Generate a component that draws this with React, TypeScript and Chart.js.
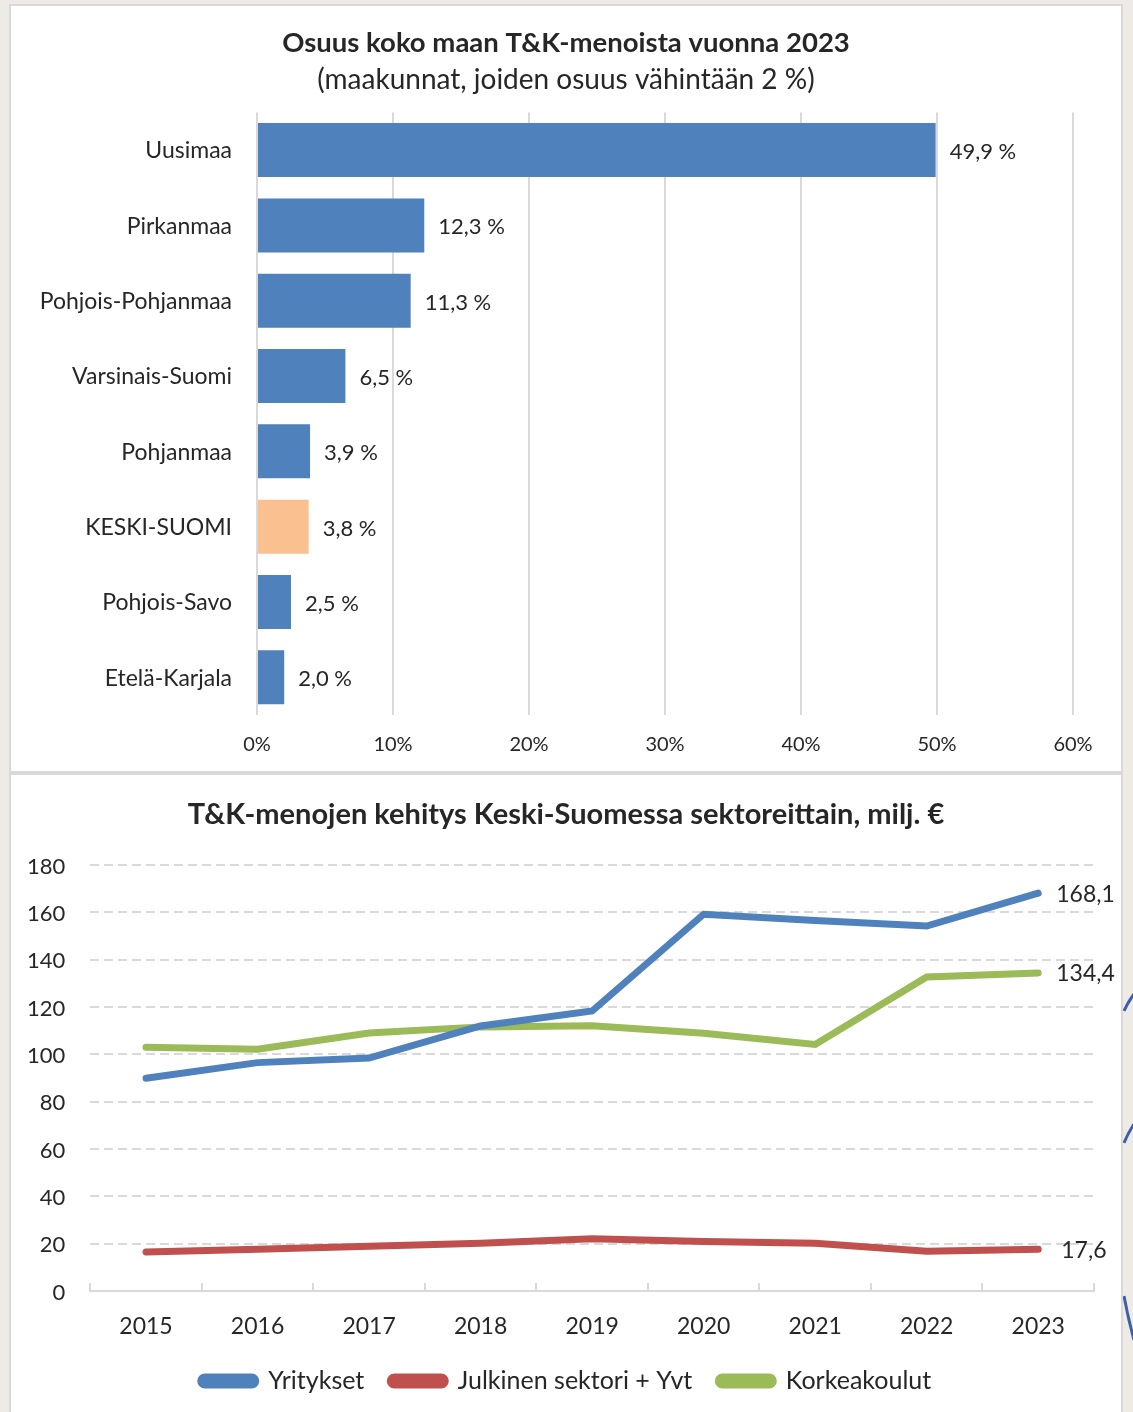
import React, { useEffect, useRef } from 'react';
import { Chart, registerables } from 'chart.js';

Chart.register(...registerables);

// ---------- data ----------
const regions = [
  'Uusimaa',
  'Pirkanmaa',
  'Pohjois-Pohjanmaa',
  'Varsinais-Suomi',
  'Pohjanmaa',
  'KESKI-SUOMI',
  'Pohjois-Savo',
  'Etelä-Karjala',
];
const shares = [49.9, 12.3, 11.3, 6.5, 3.9, 3.8, 2.5, 2.0];
const shareTicks = [0, 10, 20, 30, 40, 50, 60];
const highlightRegion = 'KESKI-SUOMI';

const years = ['2015', '2016', '2017', '2018', '2019', '2020', '2021', '2022', '2023'];
const yritykset = [89.9, 96.5, 98.4, 112.0, 118.3, 159.2, 156.5, 154.2, 168.1];
const julkinen = [16.5, 17.6, 18.9, 20.2, 22.1, 20.9, 20.2, 16.8, 17.6];
const korkeakoulut = [103.0, 102.2, 109.0, 111.6, 112.1, 108.9, 104.2, 132.7, 134.4];
const valueTicks = [0, 20, 40, 60, 80, 100, 120, 140, 160, 180];

// ---------- styles ----------
const FONT = 'Lato, "Noto Sans", sans-serif';
const TEXT = '#262626';
const GRID = '#d9d9d9';
const BLUE = '#4f81bd';
const RED = '#c0504d';
const GREEN = '#9bbb59';
const ORANGE = '#fac090';

const fmt = (v: number) => v.toFixed(1).replace('.', ',');

// invisible right-side spacer axis (keeps titles centred on the full canvas)
const spacer = (w: number) => ({
  type: 'linear',
  position: 'right',
  display: true,
  ticks: { display: false },
  grid: { display: false, drawTicks: false },
  border: { display: false },
  afterFit: (s: any) => {
    s.width = w;
  },
});

const barLabels = {
  id: 'barLabels',
  afterDatasetsDraw(chart: any) {
    const ctx = chart.ctx;
    const meta = chart.getDatasetMeta(0);
    const data = chart.data.datasets[0].data as number[];
    ctx.save();
    ctx.font = `22px ${FONT}`;
    ctx.fillStyle = TEXT;
    ctx.textAlign = 'left';
    ctx.textBaseline = 'middle';
    meta.data.forEach((el: any, i: number) => {
      ctx.fillText(`${fmt(data[i])} %`, el.x + 14, el.y + 2);
    });
    ctx.restore();
  },
};

const endLabels = {
  id: 'endLabels',
  afterDatasetsDraw(chart: any) {
    const ctx = chart.ctx;
    ctx.save();
    ctx.font = `23px ${FONT}`;
    ctx.fillStyle = TEXT;
    ctx.textAlign = 'left';
    ctx.textBaseline = 'middle';
    chart.data.datasets.forEach((ds: any, di: number) => {
      const meta = chart.getDatasetMeta(di);
      const last = meta.data.length - 1;
      const el = meta.data[last];
      const off = ds.labelOffset ?? 18;
      ctx.fillText(fmt(ds.data[last]), el.x + off, el.y + 1);
    });
    ctx.restore();
  },
};

export default function App() {
  const topRef = useRef<HTMLCanvasElement>(null);
  const botRef = useRef<HTMLCanvasElement>(null);

  useEffect(() => {
    Chart.defaults.font.family = FONT;
    Chart.defaults.color = TEXT;

    const top = new Chart(topRef.current!, {
      type: 'bar',
      data: {
        labels: regions,
        datasets: [
          {
            data: shares,
            xAxisID: 'x',
            yAxisID: 'y',
            backgroundColor: regions.map((r) => (r === highlightRegion ? ORANGE : BLUE)),
            barPercentage: 0.717,
            categoryPercentage: 1,
          },
        ],
      },
      options: {
        indexAxis: 'y',
        animation: false,
        responsive: false,
        maintainAspectRatio: false,
        devicePixelRatio: 1,
        layout: { padding: 0 },
        plugins: {
          legend: { display: false },
          tooltip: { enabled: false },
          title: {
            display: true,
            text: 'Osuus koko maan T&K-menoista vuonna 2023',
            font: { family: FONT, size: 27.5, weight: 'bold' },
            color: TEXT,
            padding: { top: 21, bottom: 2.7 },
          },
          subtitle: {
            display: true,
            text: '(maakunnat, joiden osuus vähintään 2 %)',
            font: { family: FONT, size: 28 },
            color: TEXT,
            padding: { top: 0, bottom: 16.1 },
          },
        },
        scales: {
          x: {
            type: 'linear',
            min: 0,
            max: 60,
            afterBuildTicks: (s: any) => {
              s.ticks = shareTicks.map((v) => ({ value: v }));
            },
            ticks: {
              callback: (v: any) => `${v}%`,
              font: { family: FONT, size: 20 },
              color: TEXT,
              padding: 18,
            },
            grid: { color: GRID, lineWidth: 2, drawTicks: false },
            border: { display: false },
            afterFit: (s: any) => {
              s.height = 56;
            },
          },
          y: {
            type: 'category',
            position: 'left',
            ticks: { font: { family: FONT, size: 23 }, color: TEXT, padding: 25, labelOffset: 1 },
            grid: { display: false, drawTicks: false },
            border: { display: false },
            afterFit: (s: any) => {
              s.width = 246;
            },
          },
          yRight: spacer(48),
        },
      },
      plugins: [barLabels],
    } as any);

    const bot = new Chart(botRef.current!, {
      type: 'line',
      data: {
        labels: years,
        datasets: [
          {
            label: 'Yritykset',
            data: yritykset,
            xAxisID: 'x',
            yAxisID: 'y',
            borderColor: BLUE,
            backgroundColor: BLUE,
            borderWidth: 7,
            pointRadius: 0,
            borderCapStyle: 'round',
            labelOffset: 18,
          },
          {
            label: 'Julkinen sektori + Yvt',
            data: julkinen,
            xAxisID: 'x',
            yAxisID: 'y',
            borderColor: RED,
            backgroundColor: RED,
            borderWidth: 7,
            pointRadius: 0,
            borderCapStyle: 'round',
            labelOffset: 23,
          },
          {
            label: 'Korkeakoulut',
            data: korkeakoulut,
            xAxisID: 'x',
            yAxisID: 'y',
            borderColor: GREEN,
            backgroundColor: GREEN,
            borderWidth: 7,
            pointRadius: 0,
            borderCapStyle: 'round',
            labelOffset: 18,
          },
        ],
      },
      options: {
        animation: false,
        responsive: false,
        maintainAspectRatio: false,
        devicePixelRatio: 1,
        layout: { padding: { left: 0, right: 0, top: 0, bottom: 8.5 } },
        plugins: {
          tooltip: { enabled: false },
          title: {
            display: true,
            text: 'T&K-menojen kehitys Keski-Suomessa sektoreittain, milj. €',
            font: { family: FONT, size: 29, weight: 'bold' },
            color: TEXT,
            padding: { top: 22.6, bottom: 32.6 },
          },
          legend: {
            position: 'bottom',
            labels: {
              boxWidth: 55,
              boxHeight: 8,
              useBorderRadius: true,
              borderRadius: 4,
              padding: 26,
              font: { family: FONT, size: 25 },
              color: TEXT,
            },
          },
        },
        scales: {
          x: {
            type: 'category',
            position: 'bottom',
            offset: true,
            grid: {
              offset: true,
              drawOnChartArea: false,
              drawTicks: true,
              tickLength: -8,
              color: GRID,
              lineWidth: 2,
            },
            border: { display: true, color: GRID, width: 2 },
            ticks: { font: { family: FONT, size: 23 }, color: TEXT, padding: 29.5 },
            afterFit: (s: any) => {
              s.height = 51.5;
            },
          },
          y: {
            type: 'linear',
            position: 'left',
            min: 0,
            max: 180,
            afterBuildTicks: (s: any) => {
              s.ticks = valueTicks.map((v) => ({ value: v }));
            },
            ticks: { font: { family: FONT, size: 22 }, color: TEXT, padding: 25, labelOffset: 1.5 },
            grid: { color: GRID, lineWidth: 2, drawTicks: false },
            border: { display: false, dash: [9, 5] },
            afterFit: (s: any) => {
              s.width = 79.25;
            },
          },
          yRight: spacer(27),
        },
      },
      plugins: [endLabels],
    } as any);

    return () => {
      top.destroy();
      bot.destroy();
    };
  }, []);

  return (
    <div
      style={{
        position: 'absolute',
        left: 0,
        top: 0,
        width: 1133,
        height: 1412,
        background: '#eeebe6',
        overflow: 'hidden',
      }}
    >
      <div
        style={{
          position: 'absolute',
          left: 9,
          top: 4,
          width: 1110,
          height: 765,
          border: `2px solid ${GRID}`,
          background: '#fff',
        }}
      >
        <canvas ref={topRef} width={1110} height={765} style={{ display: 'block' }} />
      </div>
      <div
        style={{
          position: 'absolute',
          left: 9,
          top: 773,
          width: 1110,
          height: 639,
          borderTop: `2px solid ${GRID}`,
          borderLeft: `2px solid ${GRID}`,
          borderRight: `2px solid ${GRID}`,
          background: '#fff',
        }}
      >
        <canvas ref={botRef} width={1110} height={637} style={{ display: 'block' }} />
      </div>
      <svg
        width={10}
        height={1412}
        style={{ position: 'absolute', left: 1123, top: 0 }}
        viewBox="1123 0 10 1412"
      >
        <path d="M1124 1011 Q1128 1002 1134 994" stroke="#3f5ea8" strokeWidth={3} fill="none" />
        <path d="M1124 1143 Q1128 1133 1134 1124" stroke="#3f5ea8" strokeWidth={3} fill="none" />
        <path d="M1124 1296 Q1128 1318 1134 1340" stroke="#3f5ea8" strokeWidth={3} fill="none" />
      </svg>
    </div>
  );
}
